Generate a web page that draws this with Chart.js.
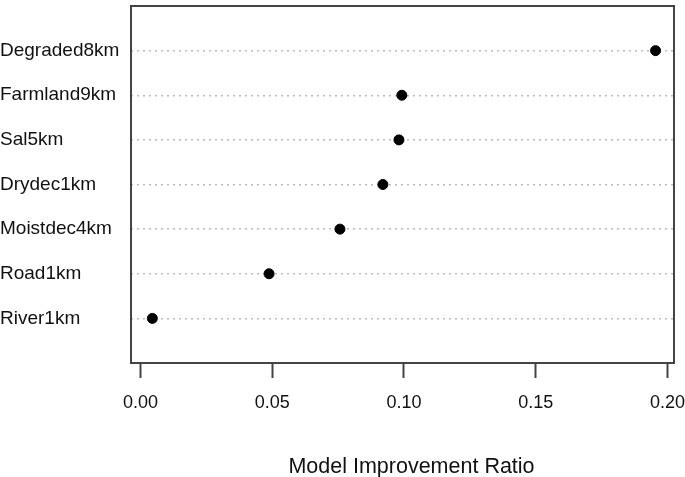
<!DOCTYPE html>
<html>
<head>
<meta charset="utf-8">
<script src="https://cdn.jsdelivr.net/npm/chart.js@4/dist/chart.umd.min.js"></script>
<style>
  html, body { margin: 0; padding: 0; background: #fff; }
  #wrap { width: 685px; height: 477px; }
</style>
</head>
<body>
<div id="wrap"><canvas id="chart"></canvas></div>
<script>
// Variables, top to bottom as drawn
const variables = ['Degraded8km', 'Farmland9km', 'Sal5km', 'Drydec1km', 'Moistdec4km', 'Road1km', 'River1km'];
const ratios = [0.1955, 0.0992, 0.0981, 0.0920, 0.0757, 0.0488, 0.0045];
const xTicks = [0.00, 0.05, 0.10, 0.15, 0.20];
const xTitle = 'Model Improvement Ratio';

// Box around the plot area, like R's default frame
const frameBox = {
    id: 'frameBox',
    afterDatasetsDraw(chart) {
        const a = chart.chartArea;
        const ctx = chart.ctx;
        ctx.save();
        ctx.strokeStyle = '#444';
        ctx.lineWidth = 2;
        ctx.strokeRect(a.left, a.top, a.right - a.left, a.bottom - a.top);
        ctx.restore();
    }
};

// x axis title, sits a little right of the plot centre in the original
const xTitleText = {
    id: 'xTitleText',
    afterDraw(chart) {
        const a = chart.chartArea;
        const ctx = chart.ctx;
        ctx.save();
        ctx.fillStyle = '#111';
        ctx.font = '21.5px "Liberation Sans"';
        ctx.textAlign = 'center';
        ctx.textBaseline = 'middle';
        ctx.fillText(xTitle, (a.left + a.right) / 2 + 9, chart.height - 10);
        ctx.restore();
    }
};

document.addEventListener('DOMContentLoaded', function() {
    const ctx = document.getElementById('chart').getContext('2d');
    const points = ratios.map((v, i) => ({ x: v, y: i + 1 }));

    new Chart(ctx, {
        type: 'scatter',
        data: {
            datasets: [{
                data: points,
                backgroundColor: '#000',
                borderColor: '#000',
                pointRadius: 5,
                pointHoverRadius: 5
            }]
        },
        plugins: [frameBox, xTitleText],
        options: {
            responsive: true,
            maintainAspectRatio: false,
            animation: false,
            layout: { padding: { top: 3, right: 11, left: 0, bottom: 0 } },
            plugins: {
                legend: { display: false },
                tooltip: { enabled: false }
            },
            scales: {
                x: {
                    type: 'linear',
                    min: -0.0036,
                    max: 0.2025,
                    afterBuildTicks: scale => {
                        scale.ticks = xTicks.map(v => ({ value: v }));
                    },
                    afterFit: scale => {
                        scale.height = 114;
                        scale.paddingLeft = 0;
                        scale.paddingRight = 0;
                    },
                    border: { display: false },
                    grid: {
                        drawOnChartArea: false,
                        drawTicks: true,
                        tickLength: 15,
                        tickWidth: 2,
                        tickColor: '#444'
                    },
                    ticks: {
                        padding: 14,
                        color: '#111',
                        font: { family: 'Liberation Sans', size: 18 },
                        callback: v => v.toFixed(2)
                    }
                },
                y: {
                    type: 'linear',
                    reverse: true,
                    min: 0,
                    max: 8,
                    afterBuildTicks: scale => {
                        scale.ticks = variables.map((_, i) => ({ value: i + 1 }));
                    },
                    afterFit: scale => {
                        scale.width = 131;
                        scale.paddingTop = 0;
                        scale.paddingBottom = 0;
                    },
                    border: { display: false, dash: [2, 4] },
                    grid: {
                        color: '#bbb',
                        lineWidth: 1.5,
                        drawTicks: false
                    },
                    ticks: {
                        crossAlign: 'far',
                        color: '#111',
                        font: { family: 'Liberation Sans', size: 19 },
                        callback: v => variables[v - 1] || ''
                    }
                }
            }
        }
    });
});
</script>
</body>
</html>
